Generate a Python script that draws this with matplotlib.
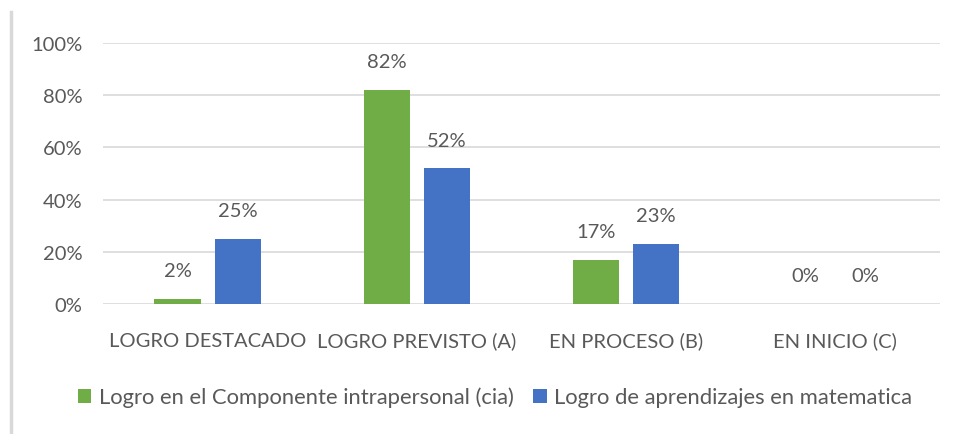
import numpy as np
import matplotlib.pyplot as plt
from matplotlib.lines import Line2D

# Datos
categorias = ['LOGRO DESTACADO', 'LOGRO PREVISTO (A)', 'EN PROCESO (B)', 'EN INICIO (C)']
intrapersonal = [2, 82, 17, 0]
matematica = [25, 52, 23, 0]
series_names = ['Logro en el Componente intrapersonal (cia)',
                'Logro de aprendizajes en matematica']

plt.rcParams['font.family'] = ['Lato', 'DejaVu Sans']
gris = '#595959'

fig = plt.figure(figsize=(9.54, 4.35), dpi=100)
ax = fig.add_axes([0.108, 0.299, 0.877, 0.600])

x = np.arange(len(categorias))
w = 0.22
off = 0.144
b1 = ax.bar(x - off, intrapersonal, w, color='#70AD47', label=series_names[0], zorder=3)
b2 = ax.bar(x + off, matematica, w, color='#4472C4', label=series_names[1], zorder=3)

for bars, vals in ((b1, intrapersonal), (b2, matematica)):
    for r, v in zip(bars, vals):
        ax.text(r.get_x() + r.get_width() / 2, v + 7.5, f'{v}%', ha='center', va='bottom',
                fontsize=14.5, color=gris)

ax.set_xlim(-0.5, len(categorias) - 0.5)
ax.set_ylim(0, 100)
ax.set_yticks(range(0, 101, 20))
ax.set_yticklabels([f'{t}%' for t in range(0, 101, 20)])
ax.set_xticks(x)
ax.set_xticklabels(categorias)
ax.tick_params(axis='both', length=0, labelsize=14.5, colors=gris)
ax.tick_params(axis='y', pad=15)
ax.tick_params(axis='x', pad=20)
ax.grid(axis='y', color='#D9D9D9', linewidth=1.2, zorder=0)
for s in ax.spines.values():
    s.set_visible(False)

fig.legend(loc='center', bbox_to_anchor=(0.519, 0.085), ncol=2, frameon=False,
           fontsize=15.8, labelcolor=gris, handlelength=0.6, handleheight=0.6,
           handletextpad=0.35, columnspacing=0.9)

# borde del grafico a la izquierda
fig.add_artist(Line2D([0.012, 0.012], [0, 0.97], color='#D9D9D9', linewidth=2.5))

plt.savefig('out.png')
